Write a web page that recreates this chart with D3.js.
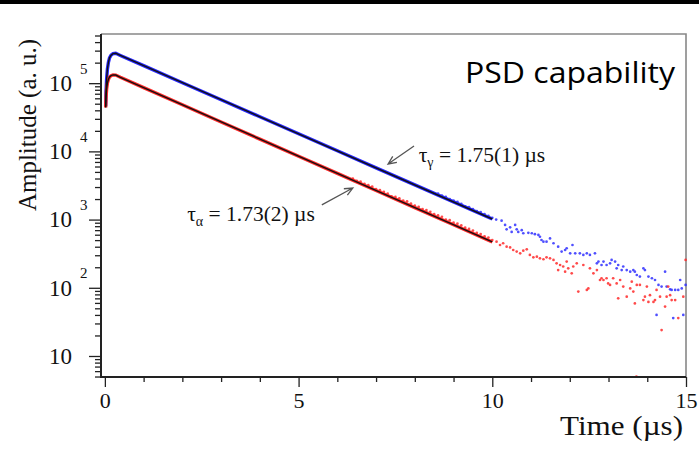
<!DOCTYPE html>
<html><head><meta charset="utf-8">
<script src="https://cdn.jsdelivr.net/npm/d3@7"></script>
<style>html,body{margin:0;padding:0;background:#fff;} svg{display:block}</style>
</head><body><svg id="c" width="699" height="455"></svg>
<script>
// ---------------- DATA (time in µs, amplitude in a.u.) ----------------
const xMajorTicks = [0, 5, 10, 15];
const xTickLabels = ["0", "5", "10", "15"];
const xMinorTicks = [1, 2, 3, 4, 6, 7, 8, 9, 11, 12, 13, 14];
const yMajorTicks = [10, 100, 1000, 10000, 100000];
const yTickBase = ["10", "10", "10", "10", "10"];
const yTickExp = ["", "2", "3", "4", "5"];

// gamma (blue) measured waveform, 0-10 µs
const gammaCurve = [[0.02,46000],[0.03,75000],[0.045,115000],[0.065,160000],[0.09,200000],[0.12,235000],[0.16,258000],
  [0.21,271000],[0.28,274000],[0.4,255000],[1,181000],[2,101600],[3,57200],[4,32200],[5,18100],[6,10200],[7,5730],
  [8,3225],[9,1815],[10,1020]];
// gamma fit (black)
const gammaFit = [[0.02,46000],[0.03,75000],[0.045,115000],[0.065,160000],[0.09,200000],[0.12,235000],[0.16,258000],
  [0.21,271000],[0.28,274000],[0.4,255000],[10,1020]];
// alpha (red) measured waveform
const alphaCurve = [[0.02,44000],[0.03,62000],[0.045,82000],[0.065,100000],[0.09,113000],[0.12,123000],[0.16,129000],
  [0.21,132000],[0.28,131500],[0.4,122000],[1,85900],[2,48200],[3,27000],[4,15100],[5,8490],[6,4760],[7,2670],
  [8,1496],[9,839],[10,470]];
const alphaFit = [[0.02,44000],[0.03,62000],[0.045,82000],[0.065,100000],[0.09,113000],[0.12,123000],[0.16,129000],
  [0.21,132000],[0.28,131500],[0.4,122000],[10,470]];

// blue scattered points
const gammaT = [8.6,8.7,8.8,8.9,9.0,9.1,9.2,9.3,9.4,9.5,9.6,9.7,9.8,9.9,10.0,10.1,
 10.24,10.33,10.37,10.46,10.50,10.59,10.63,10.67,10.76,10.80,10.93,11.02,11.10,11.19,11.23,11.27,11.32,11.40,11.49,11.58,
 11.70,11.79,11.88,11.92,12.01,12.07,12.14,12.26,12.35,12.44,12.52,12.65,12.70,12.74,12.82,12.87,12.95,13.04,13.08,13.17,
 13.21,13.25,13.34,13.38,13.47,13.56,13.64,13.68,13.73,13.81,13.90,13.94,14.03,14.12,14.20,14.24,14.29,14.37,14.46,14.50,
 14.59,14.63,14.67,14.72,14.80,14.85,14.89,14.93,14.99];
const gammaV = [2400,2250,2150,2000,1900,1820,1700,1560,1520,1430,1330,1290,1200,1130,1060,1000,
 964,834,720,770,660,834,720,660,700,630,640,630,610,595,560,502,475,475,530,450,
 400,340,358,380,320,424,320,320,303,320,303,320,228,242,216,242,216,228,256,242,
 193,216,182,205,182,172,182,172,154,146,193,182,146,138,130,40,110,104,172,104,
 95,93,36,93,93,130,98,40,110];

// red scattered points
const alphaT = [6.4,6.5,6.6,6.7,6.8,6.9,7.0,7.1,7.2,7.3,7.4,7.5,7.6,7.7,7.8,7.9,8.0,8.1,8.2,8.3,8.4,8.5,8.6,8.7,8.8,8.9,
 9.0,9.1,9.2,9.3,9.4,9.5,9.6,9.7,9.8,9.9,10.0,
 10.11,10.20,10.28,10.37,10.46,10.54,10.63,10.72,10.80,10.89,10.97,11.06,11.15,11.23,11.32,11.40,11.49,11.58,11.66,
 11.70,11.75,11.83,11.88,11.92,11.96,12.05,12.09,12.18,12.22,12.35,12.44,12.48,12.52,12.61,12.70,12.78,12.82,12.87,
 12.95,12.99,13.04,13.12,13.21,13.25,13.30,13.38,13.47,13.56,13.60,13.64,13.68,13.73,13.81,13.90,13.94,13.99,14.03,
 14.07,14.16,14.20,14.24,14.33,14.37,14.46,14.50,14.54,14.59,14.63,14.72,14.80,14.93,14.99,13.72];
const alphaV = [4000,3700,3600,3350,3200,3050,2800,2700,2550,2400,2200,2150,2050,1900,1850,1720,1600,1540,1430,1380,1300,1200,1150,1100,1000,980,
 900,870,820,760,730,690,640,615,570,545,500,
 475,424,450,400,390,358,340,320,350,366,303,280,286,270,262,280,270,256,228,
 182,216,205,172,242,193,163,205,228,88,216,93,98,193,163,182,130,138,130,
 138,116,110,138,116,70,130,104,74,98,123,88,59,110,110,66,74,104,62,
 78,62,66,93,74,24,53,74,104,78,66,66,36,74,256,5];

// annotations
const annotations = [
  {tail:[7.98,12000], tip:[7.31,6530], textAt:[8.1,7000], base:"τ", sub:"γ", rest:" = 1.75(1) µs", anchor:"start"},
  {tail:[5.60,1640], tip:[6.40,2900], textAt:[5.42,955], base:"τ", sub:"α", rest:" = 1.73(2) µs", anchor:"end"}
];

// ---------------- CHART ----------------
const svg = d3.select("#c");
const W = 699, H = 455;
const L = 101, R = 686, T = 34, B = 377;
const serif = "'Liberation Serif','Times New Roman',serif";
const x = d3.scaleLinear().domain([-0.1, 15]).range([L, R]);
const y = d3.scaleLog().domain([4.92, 5.26e5]).range([B, T]);

svg.append("rect").attr("width", W).attr("height", H).attr("fill", "#fff");
svg.append("rect").attr("width", W).attr("height", 4).attr("fill", "#000");

const clip = svg.append("defs").append("clipPath").attr("id", "pc");
clip.append("rect").attr("x", L).attr("y", T - 2).attr("width", R - L + 2).attr("height", B - T + 2);

// frame: top and right (grey)
svg.append("path").attr("d", `M${L},${T}H${R}V${B}`).attr("fill", "none").attr("stroke", "#888").attr("stroke-width", 1.6);

const gPlot = svg.append("g").attr("clip-path", "url(#pc)");
const line = d3.line().x(d => x(d[0])).y(d => y(d[1])).curve(d3.curveLinear);

// coloured measured curves
gPlot.append("path").datum(gammaCurve).attr("d", line).attr("fill", "none").attr("stroke", "#2626ff").attr("stroke-width", 3.4);
gPlot.append("path").datum(alphaCurve).attr("d", line).attr("fill", "none").attr("stroke", "#ff2a2a").attr("stroke-width", 3.4);

// scattered dots
gPlot.selectAll("circle.g").data(gammaT.map((t, i) => [t, gammaV[i]])).join("circle")
  .attr("class", "g").attr("cx", d => x(d[0])).attr("cy", d => y(d[1])).attr("r", 1.35).attr("fill", "#3030ff").attr("opacity", 0.85);
gPlot.selectAll("circle.a").data(alphaT.map((t, i) => [t, alphaV[i]])).join("circle")
  .attr("class", "a").attr("cx", d => x(d[0])).attr("cy", d => y(d[1])).attr("r", 1.35).attr("fill", "#ff2a2a").attr("opacity", 0.85);

// black fits
gPlot.append("path").datum(gammaFit).attr("d", line).attr("fill", "none").attr("stroke", "#111").attr("stroke-width", 1.4);
gPlot.append("path").datum(alphaFit).attr("d", line).attr("fill", "none").attr("stroke", "#111").attr("stroke-width", 1.4);

// x axis
const gx = svg.append("g").attr("transform", `translate(0,${B})`);
gx.call(d3.axisBottom(x).tickValues(xMinorTicks).tickSize(5).tickFormat(""));
gx.call(g => g.select(".domain").remove());
const gx2 = svg.append("g").attr("transform", `translate(0,${B})`);
gx2.call(d3.axisBottom(x).tickValues(xMajorTicks).tickSize(10).tickPadding(5).tickFormat((d, i) => xTickLabels[i]));
gx2.select(".domain").remove();
svg.selectAll(".tick line").attr("stroke", "#222").attr("stroke-width", 1.3);
gx2.selectAll("text").attr("font-family", serif).attr("font-size", 22).attr("fill", "#111");

// y axis
const minorY = y.ticks().filter(v => !yMajorTicks.includes(v));
const gy = svg.append("g").attr("transform", `translate(${L},0)`);
gy.call(d3.axisLeft(y).tickValues(minorY).tickSize(6).tickFormat(""));
gy.select(".domain").remove();
const gy2 = svg.append("g").attr("transform", `translate(${L},0)`);
gy2.call(d3.axisLeft(y).tickValues(yMajorTicks).tickSize(12).tickPadding(17).tickFormat((d, i) => yTickBase[i]));
gy2.select(".domain").remove();
svg.selectAll(".tick line").attr("stroke", "#222").attr("stroke-width", 1.3);
gy2.selectAll("text").attr("font-family", serif).attr("font-size", 23).attr("fill", "#111");
gy2.selectAll(".tick").append("text").text((d, i) => yTickExp[i])
  .attr("x", -21).attr("y", -10).attr("text-anchor", "start").attr("fill", "#111")
  .attr("font-family", serif).attr("font-size", 15);

// left & bottom axis lines
svg.append("path").attr("d", `M${L},${T}V${B}H${R}`).attr("fill", "none").attr("stroke", "#222").attr("stroke-width", 2);

// axis titles
svg.append("text").attr("transform", `translate(36,${125}) rotate(-90)`).attr("text-anchor", "middle")
  .attr("font-family", serif).attr("font-size", 25).attr("fill", "#111").text("Amplitude (a. u.)");
svg.append("text").attr("x", 560).attr("y", 435).attr("textLength", 123).attr("lengthAdjust", "spacingAndGlyphs")
  .attr("font-family", serif).attr("font-size", 28).attr("fill", "#111").text("Time (µs)");

// PSD capability
svg.append("text").attr("x", 465).attr("y", 83).attr("textLength", 210).attr("lengthAdjust", "spacingAndGlyphs")
  .attr("font-family", "'Open Sans','Noto Sans',sans-serif")
  .attr("font-size", 30).attr("fill", "#000").text("PSD capability");

// annotations
annotations.forEach(a => {
  const x1 = x(a.tail[0]), y1 = y(a.tail[1]), x2 = x(a.tip[0]), y2 = y(a.tip[1]);
  const ang = Math.atan2(y2 - y1, x2 - x1), hl = 9, ha = 0.42;
  svg.append("path")
    .attr("d", `M${x1},${y1}L${x2},${y2}M${x2 - hl * Math.cos(ang - ha)},${y2 - hl * Math.sin(ang - ha)}L${x2},${y2}L${x2 - hl * Math.cos(ang + ha)},${y2 - hl * Math.sin(ang + ha)}`)
    .attr("fill", "none").attr("stroke", "#555").attr("stroke-width", 1.3);
  const t = svg.append("text").attr("x", x(a.textAt[0])).attr("y", y(a.textAt[1])).attr("text-anchor", a.anchor)
    .attr("font-family", serif).attr("font-size", 21.5).attr("fill", "#111");
  t.append("tspan").text(a.base);
  t.append("tspan").text(a.sub).attr("font-size", 14).attr("dy", 5);
  t.append("tspan").text(a.rest).attr("dy", -5);
});
</script></body></html>
